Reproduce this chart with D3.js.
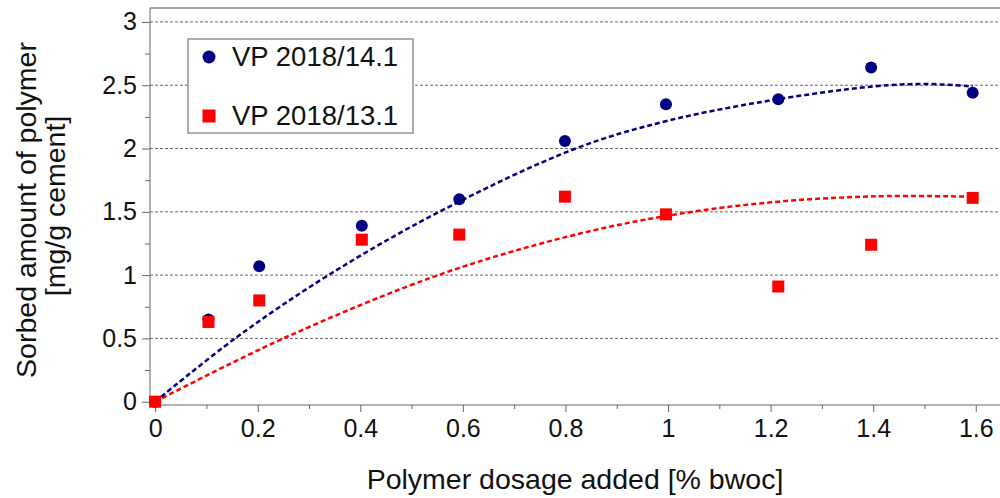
<!DOCTYPE html>
<html>
<head>
<meta charset="utf-8">
<script src="https://cdn.jsdelivr.net/npm/d3@7"></script>
<style>
  body { margin: 0; background: #fff; }
  text { font-family: "Liberation Sans", Arial, Helvetica, sans-serif; fill: #111; }
</style>
</head>
<body>
<svg id="canvas" width="1000" height="498"></svg>
<script>
// measured points
const dosage = [0, 0.104, 0.203, 0.403, 0.593, 0.799, 0.996, 1.215, 1.396, 1.594];
const sorbed141 = [0, 0.65, 1.07, 1.39, 1.60, 2.06, 2.35, 2.39, 2.64, 2.44];
const sorbed131 = [0, 0.63, 0.80, 1.28, 1.32, 1.62, 1.48, 0.91, 1.24, 1.61];

// dashed trend lines
const fit141X = [0, 0.156, 0.338, 0.554, 0.82, 1.0, 1.2, 1.4, 1.5, 1.594];
const fit141Y = [0, 0.5, 1.0, 1.5, 2.0, 2.22, 2.38, 2.49, 2.51, 2.49];
const fit131X = [0, 0.25, 0.552, 0.8, 1.0, 1.2, 1.4, 1.594];
const fit131Y = [0, 0.5, 1.0, 1.30, 1.47, 1.575, 1.622, 1.62];

const seriesNames = ["VP 2018/14.1", "VP 2018/13.1"];
const xTicks = [0, 0.2, 0.4, 0.6, 0.8, 1, 1.2, 1.4, 1.6];
const yTicks = [0, 0.5, 1, 1.5, 2, 2.5, 3];

const navy = "#000080", red = "#ff0000";

let svg = d3.select("#canvas");

var x = d3.scaleLinear().domain([-0.01, 1.65]).range([150, 1001.4]);
var y = d3.scaleLinear().domain([-0.026, 3.11]).range([405, 8]);

//grid lines
svg.append("g")
  .selectAll("line")
  .data(yTicks.filter(d => d > 0))
  .join("line")
    .attr("x1", 150).attr("x2", 1000)
    .attr("y1", d => y(d)).attr("y2", d => y(d))
    .attr("stroke", "#666")
    .attr("stroke-width", 1)
    .attr("stroke-dasharray", "3,2");

//frame top line
svg.append("line")
  .attr("x1", 150).attr("x2", 1000)
  .attr("y1", 8).attr("y2", 8)
  .attr("stroke", "#888").attr("stroke-width", 1.5);

//x axis with minor ticks
let xMinor = d3.range(0, 1.65, 0.1).filter(v => Math.abs(v * 5 - Math.round(v * 5)) > 0.01);
svg.append("g")
  .attr("transform", "translate(0,405)")
  .call(d3.axisBottom(x).tickValues(xMinor).tickSize(4).tickFormat(""))
  .call(g => g.select(".domain").remove())
  .selectAll("line").attr("stroke", "#666");
svg.append("g")
  .attr("transform", "translate(0,405)")
  .call(d3.axisBottom(x).tickValues(xTicks).tickSize(7).tickSizeOuter(0).tickPadding(7).tickFormat(d3.format("")))
  .call(g => g.select(".domain").attr("stroke", "#666").attr("d", "M150,0H1000"))
  .call(g => g.selectAll("line").attr("stroke", "#666"))
  .call(g => g.selectAll("text").attr("font-size", 25).attr("fill", "#111"));

//y axis with minor ticks
svg.append("g")
  .attr("transform", "translate(150,0)")
  .call(d3.axisLeft(y).tickValues([0.25, 0.75, 1.25, 1.75, 2.25, 2.75]).tickSize(5).tickFormat(""))
  .call(g => g.select(".domain").remove())
  .selectAll("line").attr("stroke", "#666");
svg.append("g")
  .attr("transform", "translate(150,0)")
  .call(d3.axisLeft(y).tickValues(yTicks).tickSize(8).tickSizeOuter(0).tickPadding(5).tickFormat(d3.format("")))
  .call(g => g.select(".domain").attr("stroke", "#666").attr("d", "M0,405V8"))
  .call(g => g.selectAll("line").attr("stroke", "#666"))
  .call(g => g.selectAll("text").attr("font-size", 25).attr("fill", "#111"));

//trend lines
var line = d3.line()
  .x(d => x(d[0]))
  .y(d => y(d[1]))
  .curve(d3.curveCatmullRom);

svg.append("path")
  .datum(fit131X.map((v, i) => [v, fit131Y[i]]))
  .attr("fill", "none").attr("stroke", red)
  .attr("stroke-width", 2.5).attr("stroke-dasharray", "5,3")
  .attr("d", line);
svg.append("path")
  .datum(fit141X.map((v, i) => [v, fit141Y[i]]))
  .attr("fill", "none").attr("stroke", navy)
  .attr("stroke-width", 2.5).attr("stroke-dasharray", "5,3")
  .attr("d", line);

//points
svg.append("g").selectAll("circle")
  .data(dosage.map((v, i) => [v, sorbed141[i]]))
  .join("circle")
    .attr("cx", d => x(d[0])).attr("cy", d => y(d[1]))
    .attr("r", 6).attr("fill", navy);

svg.append("g").selectAll("rect")
  .data(dosage.map((v, i) => [v, sorbed131[i]]))
  .join("rect")
    .attr("x", d => x(d[0]) - 6).attr("y", d => y(d[1]) - 6)
    .attr("width", 12).attr("height", 12)
    .attr("fill", red);

//legend
svg.append("rect")
  .attr("x", 188).attr("y", 39).attr("width", 225).attr("height", 94)
  .attr("fill", "#fff").attr("stroke", "#777").attr("stroke-width", 1.2);

const legend = svg.selectAll(".legend")
  .data(seriesNames)
  .enter().append("g")
    .attr("class", "legend")
    .attr("transform", (d, i) => "translate(0," + (57 + i * 59) + ")");

legend.filter((d, i) => i === 0).append("circle")
  .attr("cx", 209).attr("cy", 0).attr("r", 6.5).attr("fill", navy);
legend.filter((d, i) => i === 1).append("rect")
  .attr("x", 202.5).attr("y", -6.5).attr("width", 13).attr("height", 13).attr("fill", red);
legend.append("text")
  .attr("x", 232).attr("y", 9)
  .attr("font-size", 27.5)
  .text(d => d);

//axis titles
svg.append("text")
  .attr("x", 575).attr("y", 489)
  .attr("text-anchor", "middle")
  .attr("font-size", 28.5)
  .text("Polymer dosage added [% bwoc]");

svg.append("text")
  .attr("transform", "translate(36,210) rotate(-90)")
  .attr("text-anchor", "middle")
  .attr("font-size", 28.5)
  .text("Sorbed amount of polymer");
svg.append("text")
  .attr("transform", "translate(65,206) rotate(-90)")
  .attr("text-anchor", "middle")
  .attr("font-size", 28.5)
  .text("[mg/g cement]");
</script>
</body>
</html>
